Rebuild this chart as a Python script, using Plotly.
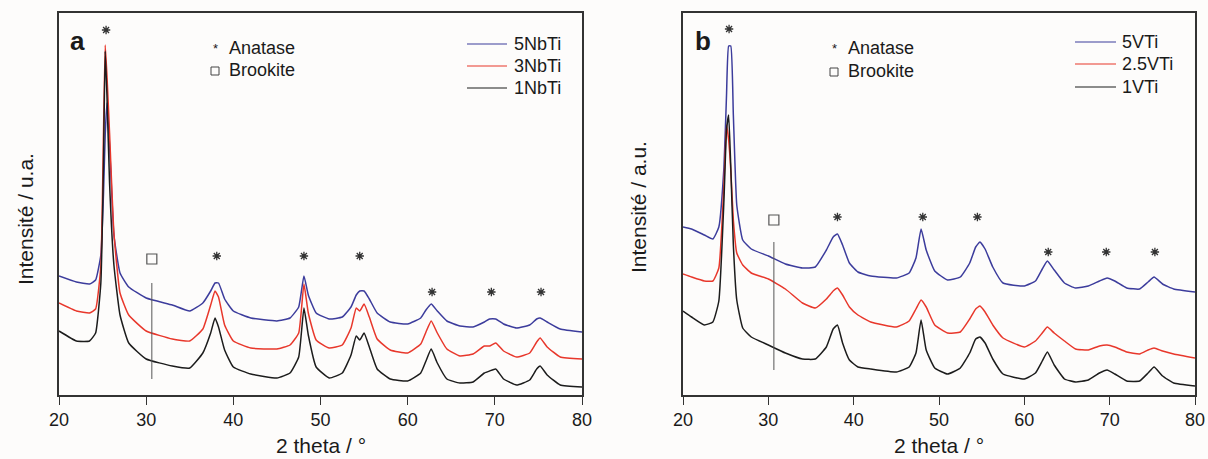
import plotly.graph_objects as go

# ---------------- data (intensity in arbitrary units) ----------------
# Panel a : Nb-doped TiO2
two_theta_a = [20, 22, 23.5, 24.2, 24.8, 25.1, 25.3, 25.5, 25.8, 26.3, 27, 28, 30, 33, 35,
               36.5, 37.4, 37.9, 38.3, 39, 40, 42, 45, 46.5, 47.5, 48.1, 48.6, 49.5, 51,
               52.5, 53.5, 54.1, 54.5, 55.0, 55.6, 56.5, 58, 60, 61.5, 62.1, 62.7, 63.4,
               64.5, 66, 67.5, 68.8, 69.4, 70.1, 71, 72.5, 74, 74.8, 75.2, 76, 77.5, 80]
nb5 = [119, 113, 111, 115, 140, 200, 260, 292, 250, 160, 122, 108, 97, 90, 84,
       92, 104, 112, 112, 96, 84, 77, 74, 77, 88, 119, 100, 82, 76,
       78, 88, 100, 104, 104, 96, 82, 73, 71, 77, 85, 91, 84,
       74, 69, 68, 73, 76, 76, 71, 67, 70, 76, 77, 73, 66, 63]
nb3 = [92, 84, 82, 86, 129, 260, 350, 320, 262, 162, 102, 80, 64, 56, 54,
       66, 90, 104, 98, 70, 54, 47, 46, 50, 62, 111, 82, 55, 47,
       50, 67, 87, 84, 91, 78, 56, 45, 42, 51, 63, 74, 62,
       46, 39, 41, 49, 49, 52, 44, 38, 42, 53, 57, 48, 38, 36]
nb1 = [64, 54, 54, 62, 112, 230, 344, 300, 212, 130, 80, 52, 36, 29, 27,
       42, 62, 77, 68, 45, 28, 21, 17, 22, 38, 87, 60, 28, 17,
       22, 40, 59, 55, 62, 48, 26, 16, 14, 22, 34, 46, 32,
       16, 12, 13, 22, 24, 26, 16, 10, 15, 26, 29, 20, 10, 8]

# Panel b : V-doped TiO2
two_theta_b = [20, 21, 22.5, 23.5, 24.2, 24.8, 25.1, 25.35, 25.6, 25.9, 26.3, 27, 28, 30, 32,
               34, 35.5, 36.8, 37.6, 38.1, 38.7, 39.5, 40.5, 42, 45, 46.5, 47.3, 47.9, 48.5,
               49.5, 51, 52.5, 53.6, 54.3, 54.8, 55.4, 56.3, 57.5, 60, 61.3, 62.1, 62.7,
               63.5, 64.7, 66, 67.5, 68.8, 69.7, 70.6, 72, 73.5, 74.5, 75.2, 76.2, 77.5, 80]
v5 = [168, 166, 160, 156, 168, 228, 300, 349, 349, 280, 190, 155, 146, 139, 131,
      127, 128, 145, 158, 161, 150, 132, 123, 119, 117, 122, 137, 166, 145,
      124, 115, 118, 132, 148, 153, 146, 128, 112, 109, 114, 126, 134,
      125, 112, 107, 109, 114, 117, 114, 107, 106, 113, 118, 111, 106, 103]
v25 = [121, 118, 114, 114, 127, 211, 270, 255, 225, 175, 142, 130, 122, 116, 106,
       92, 87, 96, 104, 107, 100, 88, 80, 73, 68, 74, 86, 95, 88,
       70, 62, 63, 76, 86, 89, 83, 70, 57, 48, 54, 62, 68,
       62, 54, 46, 45, 49, 50, 48, 43, 41, 45, 47, 44, 41, 37]
v1 = [84, 78, 70, 73, 94, 195, 265, 280, 228, 150, 95, 67, 58, 50, 42,
      36, 36, 48, 66, 70, 52, 35, 28, 26, 23, 28, 42, 75, 45,
      27, 21, 27, 42, 56, 58, 52, 36, 21, 16, 22, 34, 43,
      30, 16, 13, 15, 22, 25, 21, 14, 14, 22, 28, 19, 12, 9]

# Phase markers
anatase_pos = [25.4, 38.1, 48.1, 54.5, 62.8, 69.6, 75.3]
anatase_h_a = [365, 139, 139, 139, 103, 103, 103]
anatase_h_b = [366, 178, 178, 178, 143, 143, 143]
brookite_pos = [30.65]
brookite_h_a = [136]
brookite_h_b = [175]
brookite_line_a = [16, 112]
brookite_line_b = [25, 153]

labels_a = ["5NbTi", "3NbTi", "1NbTi"]
labels_b = ["5VTi", "2.5VTi", "1VTi"]
colors = ["#3c3c9c", "#e8372b", "#1c1c1c"]
tick_vals = [20, 30, 40, 50, 60, 70, 80]

# ---------------- layout helpers ----------------
W, H = 1208, 459
FONT = "Liberation Sans, Arial, sans-serif"
BG = "#fdfcfb"


def px(x):
    return x / W


def py(y):
    return 1 - y / H


fig = go.Figure()

series_a = [nb5, nb3, nb1]
series_b = [v5, v25, v1]
for vals, col, name in zip(series_a, colors, labels_a):
    fig.add_trace(go.Scatter(x=two_theta_a, y=vals, mode="lines", name=name,
                             line=dict(color=col, width=1.5, shape="spline", smoothing=0.4),
                             xaxis="x", yaxis="y", showlegend=False))
for vals, col, name in zip(series_b, colors, labels_b):
    fig.add_trace(go.Scatter(x=two_theta_b, y=vals, mode="lines", name=name,
                             line=dict(color=col, width=1.5, shape="spline", smoothing=0.4),
                             xaxis="x2", yaxis="y2", showlegend=False))

# markers
for xa, ya, h_an, h_br, line_br in [("x", "y", anatase_h_a, brookite_h_a, brookite_line_a),
                                    ("x2", "y2", anatase_h_b, brookite_h_b, brookite_line_b)]:
    fig.add_trace(go.Scatter(x=anatase_pos, y=h_an, mode="markers", xaxis=xa, yaxis=ya,
                             marker=dict(symbol="asterisk-open", size=7, color="#333333",
                                         line=dict(color="#333333", width=1.3)),
                             showlegend=False, hoverinfo="skip"))
    fig.add_trace(go.Scatter(x=brookite_pos, y=h_br, mode="markers", xaxis=xa, yaxis=ya,
                             marker=dict(symbol="square-open", size=10, color="#555555",
                                         line=dict(color="#555555", width=1.2)),
                             showlegend=False, hoverinfo="skip"))
    fig.add_trace(go.Scatter(x=brookite_pos * 2, y=line_br, mode="lines", xaxis=xa, yaxis=ya,
                             line=dict(color="#555555", width=1),
                             showlegend=False, hoverinfo="skip"))

ydom = [py(395), py(13)]
axis_common = dict(range=[20, 80], tickvals=tick_vals, ticks="outside", ticklen=8,
                   tickwidth=1.3, tickcolor="#333333", showline=True, mirror=True,
                   linecolor="#333333", linewidth=1.5, showgrid=False, zeroline=False,
                   automargin=False,
                   tickfont=dict(family=FONT, size=18, color="#1a1a1a"))
yaxis_common = dict(range=[0, 382], showline=True, mirror=True, linecolor="#333333",
                    linewidth=1.5, showgrid=False, zeroline=False, showticklabels=False,
                    automargin=False, ticks="", domain=ydom)

fig.update_layout(
    template="none",
    width=W, height=H,
    margin=dict(l=0, r=0, t=0, b=0, autoexpand=False),
    paper_bgcolor=BG, plot_bgcolor=BG,
    xaxis=dict(domain=[px(59), px(582)], anchor="y", **axis_common),
    yaxis=dict(anchor="x", **yaxis_common),
    xaxis2=dict(domain=[px(683), px(1195)], anchor="y2", **axis_common),
    yaxis2=dict(anchor="x2", **yaxis_common),
    showlegend=False,
)

ann = []


def text(x, y, s, size=18, bold=False, angle=0, xanchor="center"):
    ann.append(dict(x=px(x), y=py(y), xref="paper", yref="paper", text=f"<b>{s}</b>" if bold else s,
                    showarrow=False, xanchor=xanchor, yanchor="middle", textangle=angle,
                    font=dict(family=FONT, size=size, color="#1a1a1a")))


# axis titles
text(321, 445, "2 theta / °", size=21)
text(939, 445, "2 theta / °", size=21)
text(25, 219, "Intensité / u.a.", size=21, angle=-90)
text(639, 207, "Intensité / a.u.", size=21, angle=-90)

# panel letters
text(77, 41, "a", size=26, bold=True)
text(703, 41, "b", size=26, bold=True)

shapes = []

# phase keys
for xs, xt, ya, yb in [(215, 227, 48, 70), (834, 846, 48, 71)]:
    text(xs, ya + 1, "*", size=13)
    text(xt, ya, "Anatase", size=18, xanchor="left")
    shapes.append(dict(type="rect", xref="paper", yref="paper",
                       x0=px(xs - 4), x1=px(xs + 4), y0=py(yb + 5), y1=py(yb - 3),
                       line=dict(color="#444444", width=1)))
    text(xt, yb, "Brookite", size=18, xanchor="left")

for labels, x0, x1, xt, ys in [(labels_a, 467, 507, 512, [44, 66, 88]),
                               (labels_b, 1075, 1116, 1120, [42, 64, 87])]:
    for lab, col, yy in zip(labels, colors, ys):
        shapes.append(dict(type="line", xref="paper", yref="paper", x0=px(x0), x1=px(x1),
                           y0=py(yy), y1=py(yy), line=dict(color=col, width=1.2)))
        text(xt, yy, lab, size=18, xanchor="left")

fig.update_layout(annotations=ann, shapes=shapes)
fig.write_html("out.html", config={"displayModeBar": False},
               post_script="document.body.style.margin='0';"
                           "document.body.style.background='" + BG + "';")
